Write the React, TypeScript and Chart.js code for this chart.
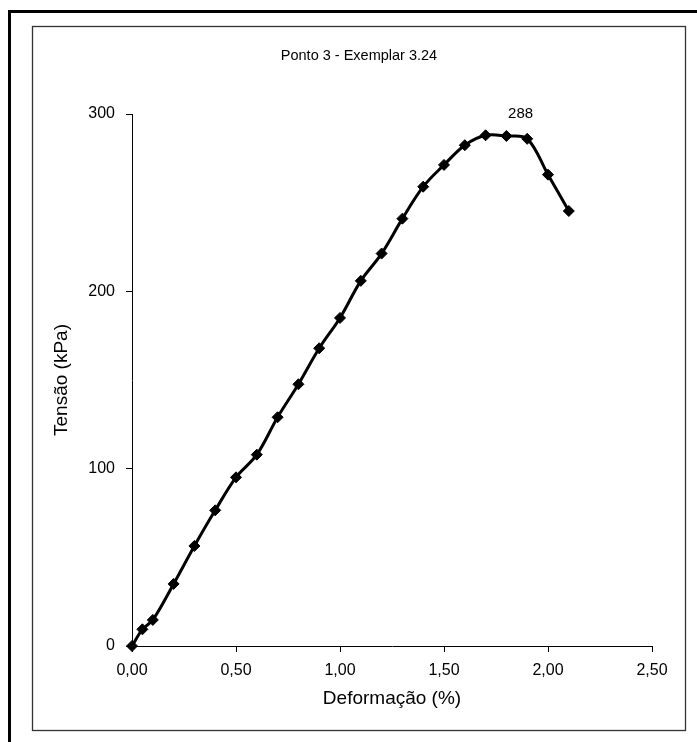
import React, { useEffect, useRef } from "react";
import { Chart, registerables } from "chart.js";

Chart.register(...registerables);

// Deformação (%) readings and the matching Tensão (kPa) values
const deformacao = [0, 0.05, 0.1, 0.2, 0.3, 0.4, 0.5, 0.6, 0.7, 0.8, 0.9, 1.0, 1.1, 1.2, 1.3, 1.4, 1.5, 1.6, 1.7, 1.8, 1.9, 2.0, 2.1];
const tensao = [0, 9.4, 14.7, 35, 56.4, 76.5, 95.1, 107.9, 129, 147.6, 167.9, 185, 205.9, 221.3, 241, 259, 271.3, 282.4, 288, 287.6, 286, 265.8, 245.3];

const chartTitle = "Ponto 3 - Exemplar 3.24";
const xTitle = "Deformação (%)";
const yTitle = "Tensão (kPa)";
const xTicks = [0, 0.5, 1.0, 1.5, 2.0, 2.5];
const yTicks = [0, 100, 200, 300];

const W = 697;
const H = 742;
const FONT = "'Liberation Sans', Arial, Helvetica, sans-serif";
const TITLE_SIZE = 14.5;
const TICK_SIZE = 16;
const AXIS_TITLE_SIZE = 19;

// inner chart frame
const FRAME = { x: 32.5, y: 26.5, w: 653, h: 704 };

// Frames, chart title and the peak value label
const decorPlugin = {
  id: "decor",
  beforeDraw(chart: any) {
    const { ctx } = chart;
    ctx.save();
    ctx.fillStyle = "#ffffff";
    ctx.fillRect(0, 0, W, H);
    // heavy outer frame (left and top edges)
    ctx.strokeStyle = "#000";
    ctx.lineWidth = 3;
    ctx.beginPath();
    ctx.moveTo(9.5, H);
    ctx.lineTo(9.5, 11.5);
    ctx.lineTo(W, 11.5);
    ctx.stroke();
    ctx.strokeStyle = "#333";
    ctx.lineWidth = 1.3;
    ctx.strokeRect(FRAME.x, FRAME.y, FRAME.w, FRAME.h);
    // title centred in the frame
    ctx.font = `${TITLE_SIZE}px ${FONT}`;
    ctx.fillStyle = "#000";
    ctx.textAlign = "center";
    ctx.textBaseline = "middle";
    ctx.fillText(chartTitle, FRAME.x + FRAME.w / 2, 56);
    ctx.restore();
  },
  afterDatasetsDraw(chart: any) {
    const { ctx } = chart;
    const meta = chart.getDatasetMeta(0);
    let peak = 0;
    tensao.forEach((v, i) => {
      if (v > tensao[peak]) peak = i;
    });
    const pt = meta.data[peak];
    ctx.save();
    ctx.font = `15px ${FONT}`;
    ctx.fillStyle = "#000";
    ctx.textAlign = "center";
    ctx.textBaseline = "middle";
    ctx.fillText(String(Math.round(tensao[peak])), pt.x + 35, pt.y - 21);
    ctx.restore();
  },
};

export default function App() {
  const ref = useRef<HTMLCanvasElement | null>(null);

  useEffect(() => {
    if (!ref.current) return;
    Chart.defaults.font.family = FONT;
    Chart.defaults.color = "#000";

    const chart = new Chart(ref.current, {
      type: "scatter",
      data: {
        datasets: [
          {
            data: deformacao.map((x, i) => ({ x, y: tensao[i] })),
            showLine: true,
            clip: false,
            borderColor: "#000",
            backgroundColor: "#000",
            borderWidth: 3,
            tension: 0.35,
            pointStyle: "rectRot",
            pointRadius: 5.5,
            pointBorderWidth: 1,
            pointBackgroundColor: "#000",
            pointBorderColor: "#000",
          },
        ],
      },
      options: {
        responsive: false,
        animation: false,
        devicePixelRatio: 1,
        layout: { padding: { left: 50.6, right: 45, top: 114, bottom: 31.6 } },
        plugins: {
          legend: { display: false },
          tooltip: { enabled: false },
          title: { display: false },
        },
        scales: {
          x: {
            type: "linear",
            min: 0,
            max: 2.5,
            afterFit: (s: any) => {
              s.height = 64.4;
            },
            afterBuildTicks: (s: any) => {
              s.ticks = xTicks.map((v) => ({ value: v }));
            },
            ticks: {
              padding: 9,
              maxRotation: 0,
              color: "#000",
              font: { size: TICK_SIZE, family: FONT },
              callback: (v: any) => Number(v).toFixed(2).replace(".", ","),
            },
            grid: { drawOnChartArea: false, drawTicks: true, tickLength: 6, color: "#000" },
            border: { display: true, color: "#000", width: 1 },
            title: {
              display: true,
              text: xTitle,
              color: "#000",
              font: { size: AXIS_TITLE_SIZE, family: FONT },
              padding: { top: 0, bottom: 0 },
            },
          },
          y: {
            type: "linear",
            min: 0,
            max: 300,
            afterFit: (s: any) => {
              s.width = 81.4;
            },
            afterBuildTicks: (s: any) => {
              s.ticks = yTicks.map((v) => ({ value: v }));
            },
            ticks: {
              padding: 11,
              color: "#000",
              font: { size: TICK_SIZE, family: FONT },
              callback: (v: any) => String(v),
            },
            grid: { drawOnChartArea: false, drawTicks: true, tickLength: 6, color: "#000" },
            border: { display: true, color: "#000", width: 1 },
            title: {
              display: true,
              text: yTitle,
              color: "#000",
              font: { size: AXIS_TITLE_SIZE, family: FONT },
              padding: { top: 0, bottom: 0 },
            },
          },
        },
      },
      plugins: [decorPlugin],
    } as any);

    return () => chart.destroy();
  }, []);

  return (
    <div style={{ position: "fixed", left: 0, top: 0, width: W, height: H, background: "#fff" }}>
      <canvas ref={ref} width={W} height={H} style={{ width: W, height: H, display: "block" }} />
    </div>
  );
}
